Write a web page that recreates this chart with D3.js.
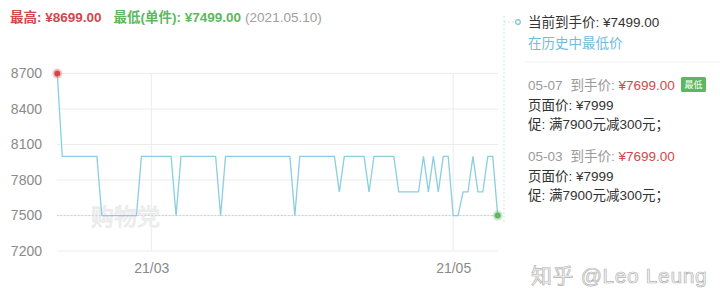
<!DOCTYPE html>
<html>
<head>
<meta charset="utf-8">
<script src="https://cdn.jsdelivr.net/npm/d3@7"></script>
<style>
  body { margin: 0; background: #fff; }
  svg { display: block; font-family: "Liberation Sans", "Noto Sans CJK SC", sans-serif; }
</style>
</head>
<body>
<svg id="chart" width="720" height="301"></svg>
<script>
// price history, one entry per change point
const dates = [
  '2021-02-10', '2021-02-11', '2021-02-18', '2021-02-19', '2021-02-26', '2021-02-27',
  '2021-03-05', '2021-03-06', '2021-03-07', '2021-03-14', '2021-03-15', '2021-03-16',
  '2021-03-29', '2021-03-30', '2021-03-31', '2021-04-07', '2021-04-08', '2021-04-09',
  '2021-04-13', '2021-04-14', '2021-04-15', '2021-04-19', '2021-04-20', '2021-04-24',
  '2021-04-25', '2021-04-26', '2021-04-27', '2021-04-28', '2021-04-29', '2021-04-30',
  '2021-05-01', '2021-05-02', '2021-05-03', '2021-05-04', '2021-05-05', '2021-05-06',
  '2021-05-07', '2021-05-08', '2021-05-09', '2021-05-10'];
const prices = [
  8699, 7999, 7999, 7499, 7499, 7999,
  7999, 7499, 7999, 7999, 7499, 7999,
  7999, 7499, 7999, 7999, 7699, 7999,
  7999, 7699, 7999, 7999, 7699, 7699,
  7999, 7699, 7999, 7699, 7999, 7999,
  7499, 7499, 7699, 7699, 7999, 7699,
  7699, 7999, 7999, 7499];
const yTicks = [7200, 7500, 7800, 8100, 8400, 8700];
const xTicks = ['2021-03-01', '2021-05-01'];

const maxPrice = 8699;
const minPrice = 7499;
const minDate = '2021.05.10';

const parse = d3.timeParse('%Y-%m-%d');
const data = dates.map((d, i) => ({date: parse(d), price: prices[i]}));

const svg = d3.select('#chart');

const x = d3.scaleTime()
  .domain([parse('2021-02-10'), parse('2021-05-10')])
  .range([57.3, 497.7]);
const y = d3.scaleLinear()
  .domain([7200, 8700])
  .range([251, 73.5]);

const red = '#d2474b';
const green = '#5fb760';
const lineColor = '#8bcee1';

// header
const head = svg.append('text').attr('x', 10).attr('y', 22).style('font-size', '13.5px');
head.append('tspan').attr('fill', red).attr('font-weight', 'bold')
  .text(`最高: ¥${maxPrice.toFixed(2)}`);
head.append('tspan').attr('dx', 12).attr('fill', green).attr('font-weight', 'bold')
  .text(`最低(单件): ¥${minPrice.toFixed(2)}`);
head.append('tspan').attr('dx', 4).attr('fill', '#a0a0a0')
  .text(`(${minDate})`);

// grid
const grid = svg.append('g');
grid.selectAll('.hg').data(yTicks).enter().append('line')
  .attr('x1', 57).attr('x2', 498)
  .attr('y1', (d) => y(d)).attr('y2', (d) => y(d))
  .attr('stroke', '#ececec');
grid.selectAll('.vg').data(xTicks).enter().append('line')
  .attr('x1', (d) => x(parse(d))).attr('x2', (d) => x(parse(d)))
  .attr('y1', y(8700)).attr('y2', y(7200))
  .attr('stroke', '#ececec');

// axes
const yAxis = svg.append('g')
  .attr('transform', 'translate(42,0)')
  .call(d3.axisLeft(y).tickValues(yTicks).tickSize(0).tickPadding(0).tickFormat(d3.format('d')));
yAxis.select('.domain').remove();
yAxis.selectAll('text').attr('fill', '#8a8a8a').style('font-size', '14px').style('font-family', 'inherit');

const xAxis = svg.append('g')
  .attr('transform', `translate(0,${y(7200)})`)
  .call(d3.axisBottom(x).tickValues(xTicks.map(parse)).tickSize(0).tickPadding(12)
    .tickFormat(d3.timeFormat('%y/%m')));
xAxis.select('.domain').remove();
xAxis.selectAll('text').attr('fill', '#8a8a8a').style('font-size', '14px').style('font-family', 'inherit');

// watermark inside plot
svg.append('text').attr('x', 91).attr('y', 225)
  .attr('fill', '#f4f4f4').attr('stroke', '#e8e8e8').attr('stroke-width', 0.8)
  .style('font-size', '23px')
  .text('购物党');

// lowest-price reference line
svg.append('line')
  .attr('x1', 57).attr('x2', 498)
  .attr('y1', y(minPrice)).attr('y2', y(minPrice))
  .attr('stroke', '#b5d6dc').attr('stroke-dasharray', '1.5,2');

// price line
svg.append('path').datum(data)
  .attr('fill', 'none').attr('stroke', lineColor).attr('stroke-width', 1.3)
  .attr('d', d3.line().x((d) => x(d.date)).y((d) => y(d.price)));

// end markers
const first = data[0];
const last = data[data.length - 1];
svg.append('circle').attr('cx', x(first.date)).attr('cy', y(first.price)).attr('r', 5)
  .attr('fill', red).attr('opacity', 0.3);
svg.append('circle').attr('cx', x(first.date)).attr('cy', y(first.price)).attr('r', 3)
  .attr('fill', red);
svg.append('circle').attr('cx', x(last.date)).attr('cy', y(last.price)).attr('r', 5)
  .attr('fill', green).attr('opacity', 0.3);
svg.append('circle').attr('cx', x(last.date)).attr('cy', y(last.price)).attr('r', 3)
  .attr('fill', green);

// right panel
const panel = svg.append('g');
panel.append('line').attr('x1', 504).attr('x2', 504).attr('y1', 16).attr('y2', 222)
  .attr('stroke', '#b9dde3').attr('stroke-dasharray', '1.5,2.5');
panel.append('line').attr('x1', 504).attr('x2', 514).attr('y1', 22).attr('y2', 22)
  .attr('stroke', '#b9dde3').attr('stroke-dasharray', '1.5,2.5');
panel.append('circle').attr('cx', 518).attr('cy', 22).attr('r', 2.3)
  .attr('fill', '#fff').attr('stroke', '#7cc3d6').attr('stroke-width', 1.2);

panel.append('text').attr('x', 528).attr('y', 27).attr('fill', '#333').style('font-size', '13.5px')
  .text(`当前到手价: ¥${minPrice.toFixed(2)}`);
panel.append('text').attr('x', 528).attr('y', 48).attr('fill', '#72bcd8').style('font-size', '13.5px')
  .text('在历史中最低价');
panel.append('line').attr('x1', 526).attr('x2', 720).attr('y1', 62).attr('y2', 62)
  .attr('stroke', '#f2f2f2');

const records = [
  {day: '05-07', price: 7699, page: 7999, promo: '满7900元减300元；', lowest: true},
  {day: '05-03', price: 7699, page: 7999, promo: '满7900元减300元；', lowest: false},
];
records.forEach((r, i) => {
  const top = 90 + i * 71;
  const t = panel.append('text').attr('x', 528).attr('y', top).style('font-size', '13.5px');
  t.append('tspan').attr('fill', '#9a9a9a').text(r.day);
  t.append('tspan').attr('dx', 8).attr('fill', '#9a9a9a').text('到手价: ');
  t.append('tspan').attr('fill', red).text(`¥${r.price.toFixed(2)}`);
  if (r.lowest) {
    panel.append('rect').attr('x', 681).attr('y', top - 13).attr('width', 25).attr('height', 15)
      .attr('rx', 1.5).attr('fill', '#5cb85c');
    panel.append('text').attr('x', 693.5).attr('y', top - 2).attr('text-anchor', 'middle')
      .attr('fill', '#fff').style('font-size', '9px').text('最低');
  }
  panel.append('text').attr('x', 528).attr('y', top + 20).attr('fill', '#333').style('font-size', '13.5px')
    .text(`页面价: ¥${r.page}`);
  panel.append('text').attr('x', 528).attr('y', top + 39).attr('fill', '#333').style('font-size', '13.5px')
    .text(`促: ${r.promo}`);
});

// site watermark
svg.append('text').attr('x', 531).attr('y', 283)
  .attr('fill', '#f8f8f8').attr('stroke', '#b4b4b4').attr('stroke-width', 0.7)
  .style('font-size', '21px').style('letter-spacing', '0.6px')
  .text('知乎 @Leo Leung');
</script>
</body>
</html>
